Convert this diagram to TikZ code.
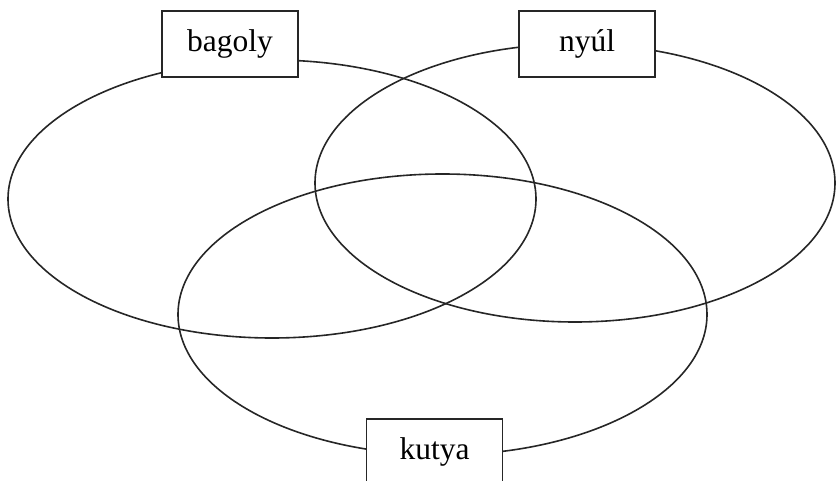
\documentclass[tikz,border=0pt]{standalone}
\usepackage{fontspec}
\setmainfont{Liberation Serif}
\begin{document}
\begin{tikzpicture}[x=1pt,y=-1pt,
  setline/.style={line width=1.6pt, draw=black!85},
  label box/.style={draw=black!85, line width=1.8pt, fill=white, minimum width=136pt, minimum height=66pt, inner sep=0pt, font=\fontsize{31.5}{36}\selectfont}]
\useasboundingbox (0,0) rectangle (836,481);
\clip (0,0) rectangle (836,481);
\draw[setline] (272,199) ellipse [x radius=264pt, y radius=139pt];
\draw[setline] (575,183) ellipse [x radius=260pt, y radius=139pt];
\draw[setline] (442.5,314.5) ellipse [x radius=264.5pt, y radius=140.5pt];
\node[label box] (bagoly) at (230,44) {bagoly};
\node[label box] (nyul) at (587,44) {nyúl};
\node[label box] (kutya) at (434.5,452) {kutya};
\end{tikzpicture}
\end{document}
